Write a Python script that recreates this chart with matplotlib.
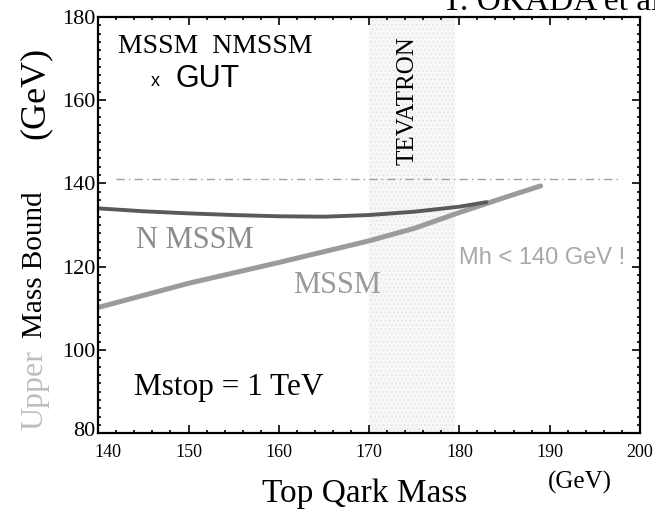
import matplotlib.pyplot as plt
from matplotlib.ticker import MultipleLocator
from matplotlib.transforms import ScaledTranslation

# ── Data ───────────────────────────────────────
mt_nmssm = [140, 145, 150, 155, 160, 165, 170, 175, 180, 183]
mh_nmssm = [134.0, 133.3, 132.8, 132.4, 132.1, 132.0, 132.4, 133.2, 134.4, 135.5]

mt_mssm = [140, 145, 150, 155, 160, 165, 170, 175, 180, 185, 189]
mh_mssm = [110.2, 113.1, 116.0, 118.5, 121.0, 123.6, 126.2, 129.2, 133.0, 136.6, 139.4]

mh_limit = 141
tevatron_band = (170, 179.5)
x_ticks = [140, 150, 160, 170, 180, 190, 200]
y_ticks = [80, 100, 120, 140, 160, 180]

serif = "Liberation Serif"
sans = "Liberation Sans"
plt.rcParams["font.family"] = [serif, "DejaVu Sans"]

# ── Figure ─────────────────────────────────────
fig = plt.figure(figsize=(6.55, 5.12), dpi=100)
ax = fig.add_axes([0.150, 0.154, 0.827, 0.813])

ax.axvspan(*tevatron_band, facecolor="#f8f8f8", edgecolor="#e8e8e8",
           hatch="....", lw=0, zorder=0)
ax.plot([142, 198], [mh_limit, mh_limit], color="#a0a0a0", lw=1.0,
        linestyle=(0, (6, 3, 1, 3)))
ax.plot(mt_mssm, mh_mssm, color="#9b9b9b", lw=3.6, solid_capstyle="round")
ax.plot(mt_nmssm, mh_nmssm, color="#5a5a5a", lw=2.8, solid_capstyle="round")

ax.set_xlim(140, 200)
ax.set_ylim(80, 180)
ax.set_xticks(x_ticks)
ax.set_yticks(y_ticks)
ax.xaxis.set_minor_locator(MultipleLocator(2))
ax.yaxis.set_minor_locator(MultipleLocator(2))
ax.tick_params(which="both", direction="in", top=True, right=True, width=1.2)
ax.tick_params(which="major", length=6)
ax.tick_params(which="minor", length=2.5)
ax.tick_params(axis="x", labelsize=13, pad=8)
ax.tick_params(axis="y", labelsize=16, pad=2)
for s in ax.spines.values():
    s.set_linewidth(1.6)

# nudge the corner labels apart
first = ax.get_xticklabels()[0]
first.set_transform(first.get_transform() + ScaledTranslation(0.1, 0, fig.dpi_scale_trans))
bottom = ax.get_yticklabels()[0]
bottom.set_transform(bottom.get_transform() + ScaledTranslation(0, 0.04, fig.dpi_scale_trans))

# ── Annotations ────────────────────────────────
ax.text(142.2, 173, "MSSM  NMSSM", family=serif, fontsize=20, va="center")
ax.text(145.8, 164.5, "x", family=sans, fontsize=13, va="center")
ax.text(148.6, 165.0, "GUT", family=sans, fontsize=22, va="center")
ax.text(174.3, 160, "TEVATRON", family=serif, fontsize=18, rotation=90,
        ha="center", va="center")
ax.text(144.2, 126.2, "N MSSM", family=serif, fontsize=22, color="#8c8c8c",
        va="center")
ax.text(161.6, 115.5, "MSSM", family=serif, fontsize=22, color="#9a9a9a",
        va="center")
ax.text(180.0, 122.0, "Mh < 140 GeV !", family=sans, fontsize=17,
        color="#a8a8a8", va="center")
ax.text(144.0, 91.0, "Mstop = 1 TeV", family=serif, fontsize=22.5, va="center")

# axis titles
fig.text(365 / 655, 1 - 502 / 512, "Top Qark Mass", family=serif, fontsize=24,
         ha="center", va="baseline")
fig.text(580 / 655, 1 - 482 / 512, "(GeV)", family=serif, fontsize=18,
         ha="center", va="center")
fig.text(35 / 655, 1 - 93 / 512, "(GeV)", family=serif, fontsize=26,
         rotation=90, ha="center", va="center")
fig.text(35 / 655, 1 - 265 / 512, "Mass Bound", family=serif, fontsize=21,
         rotation=90, ha="center", va="center")
fig.text(35 / 655, 1 - 390 / 512, "Upper", family=serif, fontsize=23,
         rotation=90, ha="center", va="center", color="#bdbdbd")
fig.text(660 / 655, 1 - 10 / 512, "T. OKADA et al", family=serif, fontsize=24,
         ha="right", va="baseline")

fig.savefig("out.png", dpi=100)
